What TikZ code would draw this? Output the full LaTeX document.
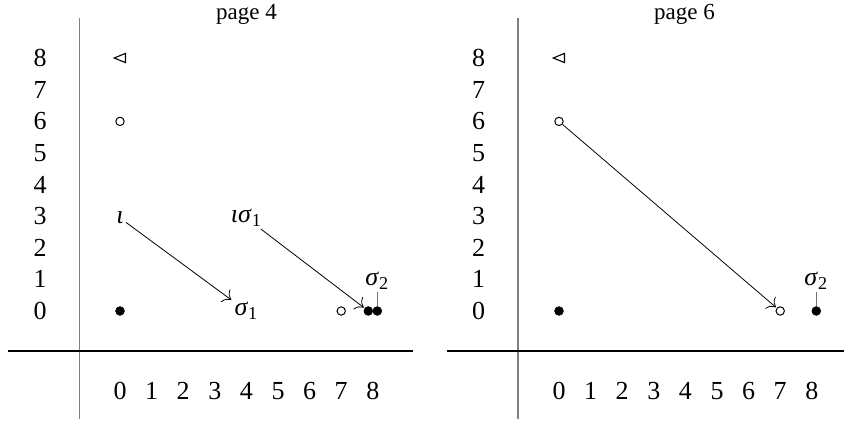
\documentclass[tikz,border=0pt]{standalone}
\usepackage{amsmath}
\usepackage{fontspec}
\setmainfont{Liberation Serif}
\usetikzlibrary{arrows.meta}
\newcommand\gsig[1]{\textit{σ}$_{\textrm{#1}}$}
\newcommand\giota{\textit{ι}}
\tikzset{
  vaxis/.style={draw=black!50, line width=0.75pt},
  haxis/.style={draw=black, line width=0.6pt},
  opencls/.style={circle, draw=black, line width=0.5pt, fill=white, minimum size=4.2pt, inner sep=0pt},
  fullcls/.style={circle, draw=black, fill=black, line width=0.3pt, minimum size=4.4pt, inner sep=0pt},
  lab/.style={inner sep=1pt},
  trist/.style={draw=black, line width=0.55pt, line join=miter},
  pinline/.style={draw=black!55, line width=0.4pt},
  arr/.style={-{To[scale=1.5]}, draw=black, line width=0.4pt, shorten >=0.5pt},
  ttl/.style={font=\fontsize{11.5}{13}\selectfont, inner sep=0pt, anchor=base}
}
\begin{document}
\begin{tikzpicture}[x=0.5pt, y=-0.5pt, font=\fontsize{13}{15}\selectfont]
\useasboundingbox (0,0) rectangle (844,421);
% ---------------- left panel: page 4
\begin{scope}
  \draw[vaxis] (79.5,18) -- (79.5,419);
  \draw[haxis] (8,351) -- (413,351);
  \node[ttl] (L-title) at (246.5,20) {page 4};
  \foreach \i in {0,...,8} {
    \node (L-x\i) at ({120+31.6*\i},391) {\i};
    \node (L-y\i) at (40,{311-31.6*\i}) {\i};
  }
  \coordinate (L-tri) at (120,58);
  \draw[trist] ([shift={(-5.8,0)}]L-tri) -- ([shift={(5.5,-4.6)}]L-tri) -- ([shift={(5.5,4.6)}]L-tri) -- cycle;
  \node[opencls] (L-o6) at (120,121.4) {};
  \node[fullcls] (L-f0) at (120,311) {};
  \node[lab] (L-iota) at (120,218) {\giota};
  \node[lab] (L-s1) at (246.4,311) {\gsig{1}};
  \node[lab] (L-is1) at (246.4,218) {\giota\gsig{1}};
  \node[opencls] (L-o7) at (341.2,311) {};
  \node[fullcls] (L-f8a) at (368.3,311) {};
  \node[fullcls] (L-f8b) at (377.3,311) {};
  \node[lab] (L-s2) at (377.3,281) {\gsig{2}};
  \draw[pinline] (L-s2.south) -- (L-f8b.north);
  \draw[arr] (L-iota) -- (L-s1);
  \draw[arr] (L-is1) -- (L-f8a);
\end{scope}
% ---------------- right panel: page 6
\begin{scope}[xshift=219.5pt]
  \draw[vaxis] (79,18) -- (79,419);
  \draw[haxis] (8,351) -- (405,351);
  \node[ttl] (R-title) at (245.5,20) {page 6};
  \foreach \i in {0,...,8} {
    \node (R-x\i) at ({120+31.6*\i},391) {\i};
    \node (R-y\i) at (39.5,{311-31.6*\i}) {\i};
  }
  \coordinate (R-tri) at (120,58);
  \draw[trist] ([shift={(-5.8,0)}]R-tri) -- ([shift={(5.5,-4.6)}]R-tri) -- ([shift={(5.5,4.6)}]R-tri) -- cycle;
  \node[opencls] (R-o6) at (120,121.4) {};
  \node[fullcls] (R-f0) at (120,311) {};
  \node[opencls] (R-o7) at (341.2,311) {};
  \node[fullcls] (R-f8b) at (377.3,311) {};
  \node[lab] (R-s2) at (377.3,281) {\gsig{2}};
  \draw[pinline] (R-s2.south) -- (R-f8b.north);
  \draw[arr] (R-o6) -- (R-o7);
\end{scope}
\end{tikzpicture}
\end{document}
